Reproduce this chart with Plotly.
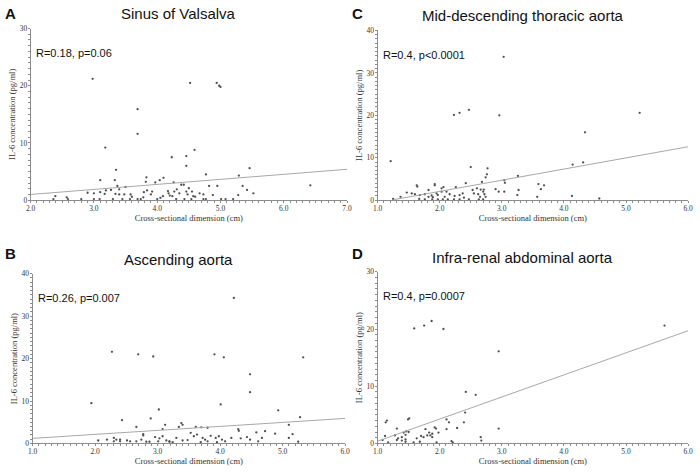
import plotly.graph_objects as go

W, H = 700, 472

# ---- data ----
sinus_x = [2.98, 4.52, 4.94, 4.98, 5.0, 3.69, 3.69, 3.18, 4.59, 4.23, 4.46, 4.46, 5.46, 3.35, 5.29,
           4.77, 3.1, 3.33, 3.83, 4.1, 4.04, 3.97, 3.82, 4.26, 4.38, 4.42, 4.82, 4.95, 5.35, 5.42,
           5.52, 6.42, 3.37, 3.5, 3.4, 3.19, 3.27, 2.9, 3.0, 3.1, 3.17, 3.34, 3.4, 3.48, 3.58,
           3.6, 3.79, 3.84, 3.92, 3.9, 4.17, 4.18, 4.2, 4.24, 4.27, 4.31, 4.35, 4.46, 4.48, 4.5,
           4.55, 4.57, 4.6, 4.67, 4.73, 4.88, 5.28, 5.08, 5.2, 5.01, 4.73, 4.77, 4.54, 4.43, 4.3,
           4.0, 3.69, 3.57, 3.45, 3.3, 3.09, 3.0, 2.8, 2.59, 2.57, 2.39, 2.36, 3.74, 3.78, 4.05, 4.09]
sinus_y = [21.2, 20.5, 20.5, 20.0, 19.8, 15.9, 11.6, 9.2, 8.8, 7.5, 7.7, 6.0, 5.6, 5.3, 4.3,
           4.5, 3.5, 3.5, 4.0, 3.9, 3.5, 3.1, 3.2, 3.1, 2.7, 2.7, 2.5, 2.5, 2.5, 1.8,
           1.2, 2.6, 2.5, 2.3, 1.9, 1.7, 1.8, 1.3, 1.2, 1.4, 1.1, 1.1, 1.0, 1.0, 1.0,
           0.6, 1.4, 1.7, 1.5, 1.0, 1.6, 1.2, 0.8, 0.7, 1.5, 1.9, 1.2, 1.5, 1.0, 2.1,
           1.5, 0.7, 0.6, 1.2, 1.0, 0.9, 0.9, 0.2, 0.2, 0.2, 0.2, 0.2, 0.2, 0.2, 0.2,
           0.2, 0.2, 0.2, 0.2, 0.2, 0.2, 0.2, 0.2, 0.2, 0.5, 0.7, 0.2, 0.2, 0.5, 0.4, 0.7]
sinus_fit_x = [2.0, 7.0]
sinus_fit_y = [1.0, 5.4]

asc_x = [4.22, 2.27, 2.69, 2.93, 3.91, 4.06, 5.33, 4.48, 4.48, 1.94, 4.01, 3.02, 4.93, 2.89, 2.43,
         5.28, 3.12, 3.38, 3.4, 2.66, 3.61, 3.7, 3.8, 3.08, 3.34, 4.29, 4.3, 4.58, 4.72, 5.1,
         4.88, 5.16, 2.77, 2.77, 2.3, 2.34, 2.4, 2.19, 2.3, 2.51, 2.56, 2.66, 2.74, 2.87, 2.96,
         3.03, 3.08, 3.01, 3.14, 3.19, 3.3, 3.4, 3.48, 3.53, 3.58, 3.63, 3.72, 3.76, 3.8, 3.85,
         3.93, 3.98, 4.03, 4.08, 4.18, 4.33, 4.43, 4.48, 4.61, 4.67, 5.1, 5.25, 2.82, 3.19, 3.24,
         3.69, 3.95, 2.4, 2.05]
asc_y = [34.3, 21.6, 21.0, 20.5, 21.0, 20.3, 20.3, 16.3, 12.1, 9.5, 9.2, 8.0, 7.8, 5.9, 5.5,
         6.2, 4.4, 4.8, 4.4, 3.9, 3.9, 3.8, 3.7, 3.4, 3.9, 3.4, 3.0, 2.6, 2.9, 4.4,
         2.3, 2.2, 2.2, 1.9, 1.3, 0.9, 0.9, 0.9, 0.5, 0.7, 0.5, 0.5, 0.9, 0.4, 1.5,
         1.2, 1.7, 0.5, 0.7, 0.5, 1.3, 0.7, 0.8, 2.5, 1.7, 2.1, 1.3, 0.9, 0.5, 1.8,
         1.3, 1.7, 0.9, 0.5, 1.3, 1.2, 1.5, 0.9, 0.5, 1.3, 1.3, 0.4, 0.4, 0.4, 0.3,
         0.3, 0.3, 0.5, 0.7]
asc_fit_x = [1.0, 6.0]
asc_fit_y = [1.2, 5.9]

thor_x = [3.03, 2.23, 2.32, 2.47, 2.96, 5.22, 4.34, 1.21, 4.31, 4.14, 2.5, 2.77, 2.76, 2.74, 3.26,
          3.04, 3.05, 2.68, 2.42, 1.92, 1.92, 1.63, 1.64, 2.26, 2.06, 3.59, 3.68, 3.63, 3.27, 2.9,
          2.95, 3.04, 3.25, 3.57, 4.13, 4.57, 1.47, 1.55, 1.6, 1.68, 1.76, 1.82, 1.87, 1.95, 1.97,
          2.03, 2.11, 2.16, 2.24, 2.32, 2.37, 2.39, 2.47, 2.53, 2.55, 2.62, 2.65, 2.7, 2.72, 2.74,
          2.7, 2.63, 2.6, 2.66, 2.71, 1.67, 1.76, 1.88, 1.97, 2.05, 2.13, 2.23, 2.32, 1.89, 2.08,
          1.25, 1.37, 2.03, 1.82]
thor_y = [33.8, 20.1, 20.6, 21.3, 20.0, 20.6, 16.0, 9.2, 8.9, 8.4, 7.8, 7.5, 6.1, 5.4, 5.7,
          4.7, 4.1, 4.3, 4.0, 3.8, 3.5, 3.5, 3.2, 3.1, 3.1, 3.8, 3.5, 2.6, 2.4, 2.6,
          2.0, 2.0, 1.2, 0.8, 1.0, 0.4, 1.8, 1.6, 1.4, 1.2, 1.4, 0.8, 1.1, 1.6, 1.2,
          2.0, 2.0, 1.4, 1.0, 1.2, 1.6, 0.6, 0.2, 2.4, 1.6, 1.4, 0.8, 2.0, 1.4, 0.8,
          0.2, 0.2, 2.8, 2.5, 2.5, 0.3, 0.2, 0.2, 0.2, 0.2, 0.2, 0.2, 0.2, 0.7, 0.8,
          0.3, 0.8, 2.8, 2.4]
thor_fit_x = [1.25, 6.0]
thor_fit_y = [0.1, 12.6]

abd_x = [5.62, 1.59, 1.75, 1.87, 2.06, 2.95, 2.42, 2.58, 2.41, 1.13, 1.15, 1.49, 1.51, 2.11, 2.15,
         2.39, 2.95, 2.28, 2.11, 1.92, 1.94, 1.31, 1.77, 1.46, 1.5, 1.42, 1.83, 1.98, 1.88, 1.8,
         1.85, 1.28, 1.45, 1.7, 1.12, 1.88, 1.74, 1.39, 1.33, 1.31, 1.39, 1.45, 1.45, 1.17, 1.68,
         1.58, 1.95, 2.19, 2.21, 2.66, 2.67, 1.08, 1.63]
abd_y = [20.6, 20.1, 20.6, 21.4, 20.0, 16.1, 9.0, 8.5, 5.4, 3.7, 4.0, 4.2, 4.4, 4.2, 3.7,
         3.7, 2.6, 2.7, 2.5, 2.8, 2.6, 2.6, 2.5, 2.1, 2.0, 1.9, 1.9, 1.9, 1.7, 1.4,
         1.4, 1.4, 1.5, 1.3, 1.3, 1.1, 1.1, 1.1, 0.9, 0.6, 0.5, 0.7, 0.3, 0.2, 0.3,
         0.2, 0.2, 0.4, 0.2, 1.1, 0.5, 0.6, 0.9]
abd_fit_x = [1.0, 6.0]
abd_fit_y = [0.4, 19.7]

panels = [
    # letter, title, stats, x, y, fit x, fit y, x range, y max, box (left, right, top, bottom px)
    ("A", "Sinus of Valsalva", "R=0.18, p=0.06", sinus_x, sinus_y, sinus_fit_x, sinus_fit_y,
     [2.0, 7.0], 30, (26, 347, 25, 200)),
    ("C", "Mid-descending thoracic aorta", "R=0.4, p<0.0001", thor_x, thor_y, thor_fit_x, thor_fit_y,
     [1.0, 6.0], 40, (378, 693, 27, 200)),
    ("B", "Ascending aorta", "R=0.26, p=0.007", asc_x, asc_y, asc_fit_x, asc_fit_y,
     [1.0, 6.0], 40, (28, 345, 275, 448)),
    ("D", "Infra-renal abdominal aorta", "R=0.4, p=0.0007", abd_x, abd_y, abd_fit_x, abd_fit_y,
     [1.0, 6.0], 30, (378, 693, 273, 448)),
]
letter_pos = {"A": (-2, 10), "C": (350, 10), "B": (-2, 254), "D": (350, 254)}


def px(x):
    return x / W


def py(y):
    return 1 - y / H


fig = go.Figure()
annotations = []
serif = "Liberation Serif, Times New Roman, serif"
sans = "Liberation Sans, Arial, sans-serif"

for i, (letter, title, stats, xs, ys, fx, fy, xr, ymax, box) in enumerate(panels):
    n = "" if i == 0 else str(i + 1)
    left, right, top, bottom = box
    fig.add_trace(go.Scatter(x=xs, y=ys, mode="markers", xaxis="x" + n, yaxis="y" + n,
                             marker=dict(size=2.3, color="#505050"), showlegend=False))
    fig.add_trace(go.Scatter(x=fx, y=fy, mode="lines", xaxis="x" + n, yaxis="y" + n,
                             line=dict(color="#a8a8a8", width=1), showlegend=False))
    axis_common = dict(showgrid=False, zeroline=False, showline=True, linecolor="#8c8c8c",
                       linewidth=1, ticks="outside", ticklen=2, tickcolor="#8c8c8c",
                       color="#333", ticklabelstandoff=-1,
                       tickfont=dict(family=serif, size=7.5, color="#333"))
    fig.update_layout({
        "xaxis" + n: dict(axis_common, domain=[px(left), px(right)], range=xr, dtick=1,
                          tickformat=".1f", anchor="y" + n,
                          minor=dict(dtick=0.1, ticklen=2, tickcolor="#8c8c8c", ticks="outside"),
                          title=dict(text="Cross-sectional dimension (cm)", standoff=1,
                                     font=dict(family=serif, size=8.5, color="#333"))),
        "yaxis" + n: dict(axis_common, domain=[py(bottom), py(top)], range=[0, ymax], dtick=10,
                          anchor="x" + n,
                          minor=dict(dtick=1, ticklen=2, tickcolor="#8c8c8c", ticks="outside"),
                          title=dict(text="IL-6 concentration (pg/ml)", standoff=2,
                                     font=dict(family=serif, size=8.5, color="#333"))),
    })
    cx = (left + right) / 2 - 10
    annotations.append(dict(text=title, x=px(cx), y=py(top - 15), xref="paper", yref="paper",
                            showarrow=False, xanchor="center", yanchor="middle",
                            font=dict(family=sans, size=15, color="#111")))
    lx, ly = letter_pos[letter]
    annotations.append(dict(text="<b>" + letter + "</b>", x=px(lx), y=py(ly),
                            xref="paper", yref="paper", showarrow=False, xanchor="left",
                            yanchor="middle", font=dict(family=sans, size=15, color="#111")))
    annotations.append(dict(text=stats, x=px(left + 3), y=py(top + 25), xref="paper", yref="paper",
                            showarrow=False, xanchor="left", yanchor="middle",
                            font=dict(family=sans, size=11, color="#111")))

fig.update_layout(width=W, height=H, margin=dict(l=0, r=0, t=0, b=0),
                  plot_bgcolor="white", paper_bgcolor="white", annotations=annotations)
fig.write_html("out.html", config={"displayModeBar": False},
               post_script="document.body.style.margin='0';")
